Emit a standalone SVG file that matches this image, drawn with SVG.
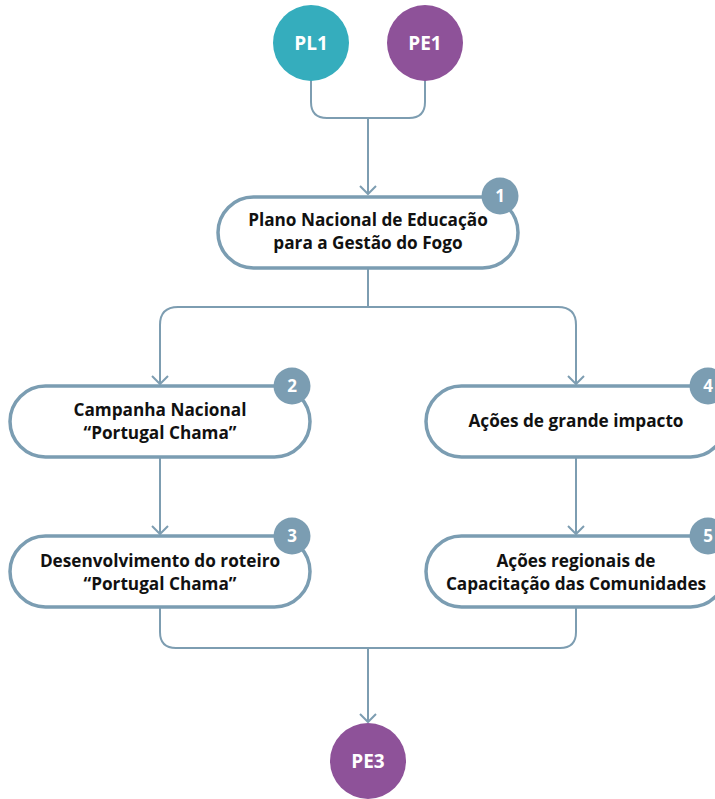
<svg xmlns="http://www.w3.org/2000/svg" width="715" height="799" viewBox="0 0 715 799">
<defs>
<style>
.conn{fill:none;stroke:#7d9db1;stroke-width:2;}
.box{fill:#ffffff;stroke:#7b9db2;stroke-width:3.5;}
.badge{fill:#7b9db2;}
.lbl{font-family:"Open Sans","Noto Sans","Liberation Sans",sans-serif;font-weight:bold;font-size:17.2px;fill:#111111;text-anchor:middle;}
.num{font-family:"Open Sans","Noto Sans","Liberation Sans",sans-serif;font-weight:bold;font-size:17px;fill:#ffffff;text-anchor:middle;}
.circ{font-family:"Open Sans","Noto Sans","Liberation Sans",sans-serif;font-weight:bold;font-size:19px;fill:#ffffff;text-anchor:middle;}
</style>
<marker id="arr" markerWidth="20" markerHeight="20" refX="10" refY="10" orient="auto" markerUnits="userSpaceOnUse">
<path d="M2,2 L10,10 L2,18" fill="none" stroke="#7d9db1" stroke-width="2"/>
</marker>
</defs>
<rect x="0" y="0" width="715" height="799" fill="#ffffff"/>
<g id="connectors">
<path class="conn" d="M311,80 V102 Q311,118 327,118 H409 Q425,118 425,102 V80"/>
<path class="conn" d="M368,118 V194" marker-end="url(#arr)"/>
<path class="conn" d="M368,268 V307"/>
<path class="conn" d="M368,307 H178 Q160,307 160,325 V384" marker-end="url(#arr)"/>
<path class="conn" d="M368,307 H558 Q576,307 576,325 V384" marker-end="url(#arr)"/>
<path class="conn" d="M160,458 V534" marker-end="url(#arr)"/>
<path class="conn" d="M576,458 V534" marker-end="url(#arr)"/>
<path class="conn" d="M160,608 V632 Q160,648 176,648 H560 Q576,648 576,632 V608"/>
<path class="conn" d="M368,648 V722" marker-end="url(#arr)"/>
</g>
<g id="PL1">
<circle cx="311" cy="43" r="38" fill="#35adbd"/>
<text class="circ" x="311" y="50">PL1</text>
</g>
<g id="PE1">
<circle cx="425" cy="43" r="38" fill="#8e5299"/>
<text class="circ" x="425" y="50">PE1</text>
</g>
<g id="node1">
<rect class="box" x="218" y="197" width="300" height="71" rx="35.5"/>
<circle class="badge" cx="500" cy="196" r="18.5"/>
<text class="num" x="500" y="202">1</text>
<text class="lbl" x="368" y="226">Plano Nacional de Educação</text>
<text class="lbl" x="368" y="249">para a Gestão do Fogo</text>
</g>
<g id="node2">
<rect class="box" x="10" y="386" width="300" height="71" rx="35.5"/>
<circle class="badge" cx="292" cy="386" r="18.5"/>
<text class="num" x="292" y="392">2</text>
<text class="lbl" x="160" y="416">Campanha Nacional</text>
<text class="lbl" x="160" y="439">“Portugal Chama”</text>
</g>
<g id="node3">
<rect class="box" x="10" y="536" width="300" height="71" rx="35.5"/>
<circle class="badge" cx="292" cy="536" r="18.5"/>
<text class="num" x="292" y="542">3</text>
<text class="lbl" x="160" y="567">Desenvolvimento do roteiro</text>
<text class="lbl" x="160" y="590">“Portugal Chama”</text>
</g>
<g id="node4">
<rect class="box" x="426" y="386" width="300" height="71" rx="35.5"/>
<circle class="badge" cx="708" cy="386" r="18.5"/>
<text class="num" x="708" y="392">4</text>
<text class="lbl" x="576" y="427">Ações de grande impacto</text>
</g>
<g id="node5">
<rect class="box" x="426" y="536" width="300" height="71" rx="35.5"/>
<circle class="badge" cx="708" cy="536" r="18.5"/>
<text class="num" x="708" y="542">5</text>
<text class="lbl" x="576" y="567">Ações regionais de</text>
<text class="lbl" x="576" y="590">Capacitação das Comunidades</text>
</g>
<g id="PE3">
<circle cx="368" cy="761" r="38" fill="#8e5299"/>
<text class="circ" x="368" y="768">PE3</text>
</g>
</svg>
